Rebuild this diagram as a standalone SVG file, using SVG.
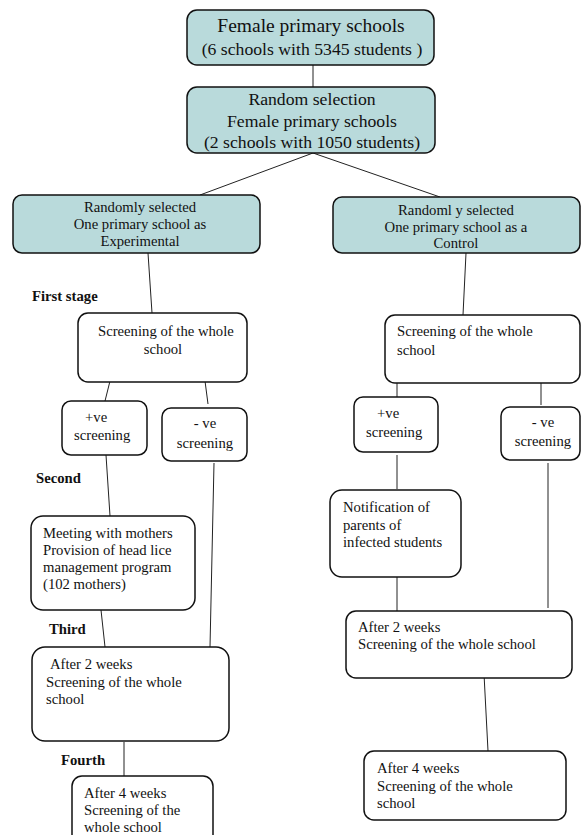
<svg xmlns="http://www.w3.org/2000/svg" width="581" height="835" viewBox="0 0 581 835">
<style>
text{font-family:'Liberation Serif','Times New Roman','DejaVu Serif',serif;fill:#111;}
.t{font-size:14.7px}
.b{font-size:14.7px;font-weight:bold}
.big{font-size:19.5px}
.med{font-size:17.7px}
.teal{fill:#b9dadb;stroke:#111;stroke-width:1.5}
.box{fill:#fff;stroke:#111;stroke-width:1.5}
.c line{stroke:#222;stroke-width:1}
.m{text-anchor:middle}
</style>
<rect width="581" height="835" fill="#fff"/>
<g class="c" id="connectors">
<line x1="313" y1="65" x2="313" y2="87"/>
<line x1="313" y1="153" x2="200" y2="195"/>
<line x1="313" y1="153" x2="440" y2="197"/>
<line x1="148" y1="253" x2="152" y2="313"/>
<line x1="466" y1="253" x2="463" y2="315"/>
<line x1="110" y1="381" x2="105" y2="401"/>
<line x1="205" y1="381" x2="208" y2="404"/>
<line x1="106" y1="455" x2="110" y2="516"/>
<line x1="214" y1="463" x2="210" y2="647"/>
<line x1="101" y1="610" x2="105" y2="647"/>
<line x1="124" y1="742" x2="124" y2="776"/>
<line x1="397" y1="383" x2="397" y2="397"/>
<line x1="541" y1="383" x2="541" y2="405"/>
<line x1="397" y1="455" x2="397" y2="489"/>
<line x1="397" y1="575" x2="397" y2="611"/>
<line x1="548" y1="463" x2="548" y2="608"/>
<line x1="484" y1="674" x2="488" y2="751"/>
</g>
<g id="n1"><rect class="teal" x="187" y="10" width="247" height="55" rx="10"/>
<text class="big m" x="311" y="32">Female primary schools</text>
<text class="med m" x="312" y="55">(6 schools with 5345 students )</text></g>
<g id="n2"><rect class="teal" x="187" y="87" width="248" height="66" rx="10"/>
<text class="med m" x="312" y="105">Random selection</text>
<text class="med m" x="312" y="127">Female primary schools</text>
<text class="med m" x="312" y="148">(2 schools with 1050 students)</text></g>
<g id="n3"><rect class="teal" x="13" y="195" width="247" height="58" rx="9"/>
<text class="t m" x="140" y="212">Randomly selected</text>
<text class="t m" x="140" y="229">One primary school as</text>
<text class="t m" x="140" y="246">Experimental</text></g>
<g id="n4"><rect class="teal" x="333" y="197" width="247" height="56" rx="9"/>
<text class="t m" x="456" y="215">Randoml y selected</text>
<text class="t m" x="456" y="232">One primary school as a</text>
<text class="t m" x="456" y="248">Control</text></g>
<text class="b" x="32" y="301">First stage</text>
<g id="n5"><rect class="box" x="78" y="313" width="169" height="69" rx="10"/>
<text class="t" x="98" y="336">Screening of the whole</text>
<text class="t m" x="163" y="354">school</text></g>
<g id="n6"><rect class="box" x="385" y="315" width="195" height="68" rx="10"/>
<text class="t" x="397" y="336">Screening of the whole</text>
<text class="t" x="397" y="355">school</text></g>
<g id="n7"><rect class="box" x="62" y="401" width="85" height="54" rx="9"/>
<text class="t" x="85" y="422">+ve</text>
<text class="t" x="74" y="440">screening</text></g>
<g id="n8"><rect class="box" x="162" y="408" width="85" height="53" rx="9"/>
<text class="t m" x="205" y="428">- ve</text>
<text class="t m" x="205" y="448">screening</text></g>
<g id="n9"><rect class="box" x="354" y="397" width="84" height="55" rx="9"/>
<text class="t" x="377" y="418">+ve</text>
<text class="t" x="366" y="437">screening</text></g>
<g id="n10"><rect class="box" x="501" y="407" width="79" height="53" rx="9"/>
<text class="t m" x="543" y="427">- ve</text>
<text class="t m" x="543" y="446">screening</text></g>
<text class="b" x="36" y="483">Second</text>
<g id="n11"><rect class="box" x="31" y="516" width="164" height="94" rx="12"/>
<text class="t" x="43" y="538">Meeting with mothers</text>
<text class="t" x="43" y="555">Provision of head lice</text>
<text class="t" x="43" y="572">management program</text>
<text class="t" x="43" y="589">(102 mothers)</text></g>
<g id="n12"><rect class="box" x="330" y="490" width="131" height="87" rx="12"/>
<text class="t" x="343" y="512">Notification of</text>
<text class="t" x="343" y="530">parents of</text>
<text class="t" x="343" y="547">infected students</text></g>
<text class="b" x="49" y="634">Third</text>
<g id="n13"><rect class="box" x="32" y="647" width="197" height="94" rx="13"/>
<text class="t" x="50" y="669">After 2 weeks</text>
<text class="t" x="46" y="687">Screening of the whole</text>
<text class="t" x="46" y="704">school</text></g>
<g id="n14"><rect class="box" x="346" y="611" width="226" height="67" rx="10"/>
<text class="t" x="358" y="632">After 2 weeks</text>
<text class="t" x="358" y="649">Screening of the whole school</text></g>
<text class="b" x="61" y="765">Fourth</text>
<g id="n15"><rect class="box" x="72" y="776" width="141" height="70" rx="10"/>
<text class="t" x="84" y="798">After 4 weeks</text>
<text class="t" x="84" y="815">Screening of the</text>
<text class="t" x="84" y="832">whole school</text></g>
<g id="n16"><rect class="box" x="364" y="751" width="202" height="69" rx="10"/>
<text class="t" x="377" y="773">After 4 weeks</text>
<text class="t" x="377" y="791">Screening of the whole</text>
<text class="t" x="377" y="808">school</text></g>
</svg>
